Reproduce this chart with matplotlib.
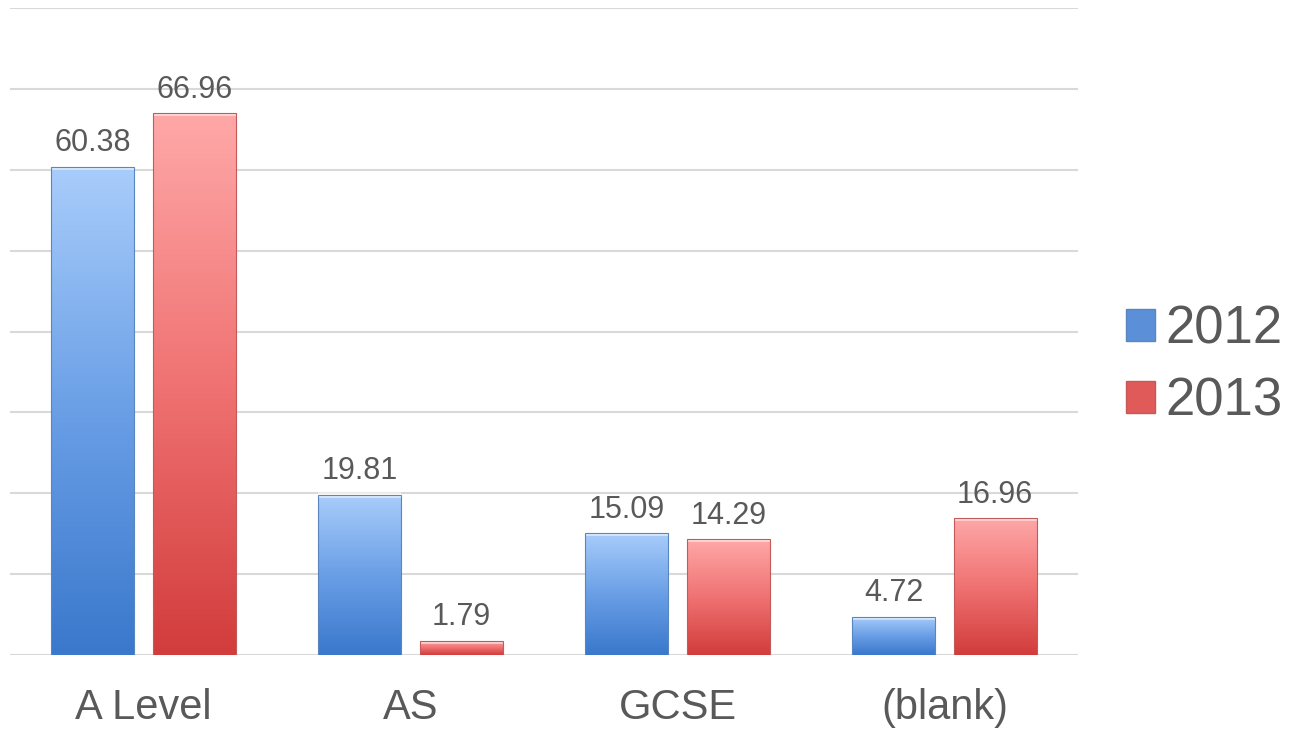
import numpy as np
import matplotlib
matplotlib.use("Agg")
import matplotlib.pyplot as plt
from matplotlib.colors import LinearSegmentedColormap
from matplotlib.patches import Patch

categories = ["A Level", "AS", "GCSE", "(blank)"]
values_2012 = [60.38, 19.81, 15.09, 4.72]
values_2013 = [66.96, 1.79, 14.29, 16.96]
series_names = ["2012", "2013"]

plt.rcParams['font.family'] = ['Liberation Sans', 'DejaVu Sans']
text_col = '#595959'

fig = plt.figure(figsize=(12.89, 7.31), dpi=100)
ax = fig.add_axes([10/1289, 76/731, 1068/1289, 647/731])

blue_cmap = LinearSegmentedColormap.from_list('b', ['#3a78cc', '#6a9fe6', '#a9cdfb'])
red_cmap = LinearSegmentedColormap.from_list('r', ['#d23c3c', '#f07272', '#ffa8a8'])

x = np.arange(len(categories))
w = 0.31
off = 0.19
bars1 = ax.bar(x - off, values_2012, w, color='none', edgecolor='#5a86c0', linewidth=0.8, zorder=3)
bars2 = ax.bar(x + off, values_2013, w, color='none', edgecolor='#c25a5a', linewidth=0.8, zorder=3)

grad = np.linspace(0, 1, 256).reshape(-1, 1)
for bars, cmap in ((bars1, blue_cmap), (bars2, red_cmap)):
    for p in bars:
        x0, y0 = p.get_x(), p.get_y()
        x1, y1 = x0 + p.get_width(), y0 + p.get_height()
        im = ax.imshow(grad, cmap=cmap, origin='lower', aspect='auto',
                       extent=[x0, x1, y0, y1], zorder=2)
        im.set_clip_path(p)
        # light bevel along the top edge
        ax.plot([x0, x1], [y1, y1], color='white', alpha=0.6, lw=4,
                solid_capstyle='butt', zorder=2.5, clip_path=p)

for bars, vals in ((bars1, values_2012), (bars2, values_2013)):
    for p, v in zip(bars, vals):
        ax.annotate(f"{v:.2f}", (p.get_x() + p.get_width()/2, v),
                    xytext=(0, 6), textcoords='offset points',
                    ha='center', va='bottom', fontsize=22, color=text_col)

ax.set_xlim(-0.5, 3.5)
ax.set_ylim(0, 80)
ax.set_yticks(np.arange(0, 81, 10))
ax.yaxis.grid(True, color='#d9d9d9', lw=1.5, zorder=0)
ax.set_axisbelow(True)
ax.tick_params(axis='y', length=0, labelleft=False)
ax.set_xticks(x)
ax.set_xticklabels(categories, fontsize=30, color=text_col)
ax.tick_params(axis='x', length=0, pad=24)
for s in ax.spines.values():
    s.set_visible(False)

handles = [Patch(facecolor='#5b90d8', edgecolor='#5a86c0'),
           Patch(facecolor='#e05a5a', edgecolor='#c25a5a')]
leg = fig.legend(handles, series_names, loc='center left', bbox_to_anchor=(1126/1289, 0.5),
                 frameon=False, fontsize=38, labelcolor=text_col, borderpad=0, borderaxespad=0,
                 handlelength=0.55, handleheight=0.55, handletextpad=0.2, labelspacing=0.42)

fig.savefig('out.png', dpi=100)
